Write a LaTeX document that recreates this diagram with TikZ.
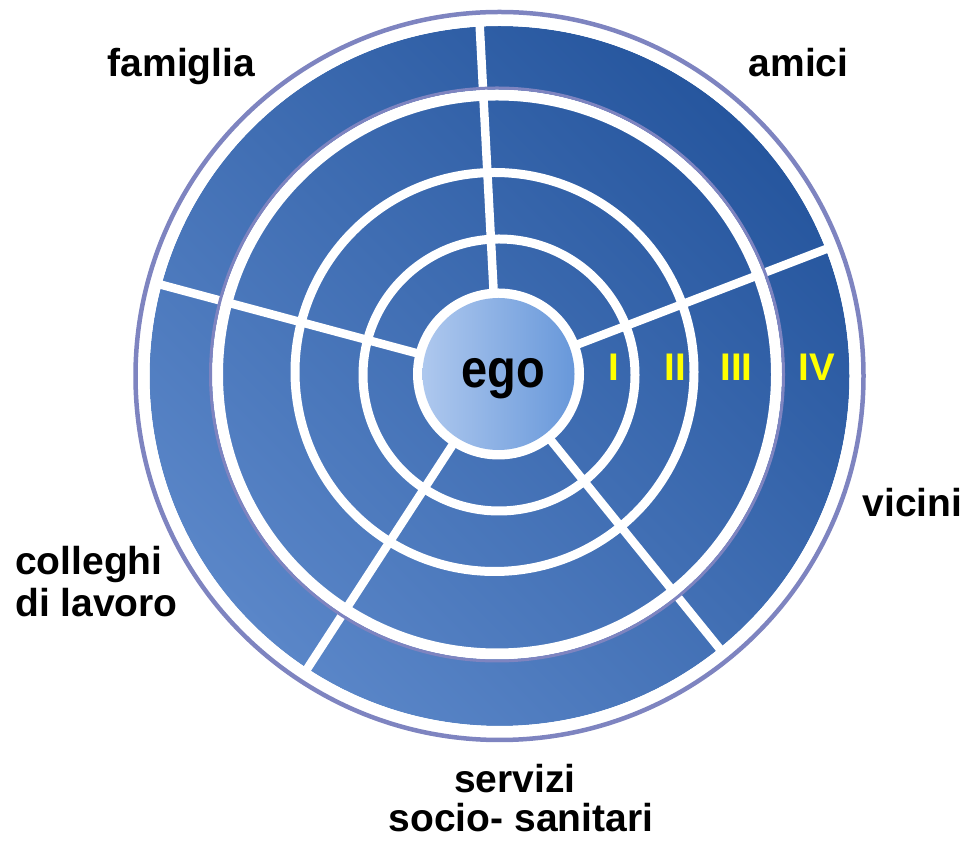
\documentclass[tikz,border=0pt]{standalone}
\usepackage{fontspec}
\setmainfont{Liberation Sans}
\definecolor{bluelight}{RGB}{90,134,200}
\definecolor{bluedark}{RGB}{38,86,158}
\definecolor{lav}{RGB}{126,132,192}
\definecolor{egol}{RGB}{174,200,238}
\definecolor{egor}{RGB}{104,152,218}
\definecolor{numyellow}{RGB}{255,255,0}
\begin{document}
\begin{tikzpicture}[x=1pt,y=1pt,
  lbl/.style={font=\fontsize{39}{44}\selectfont\bfseries, inner sep=0pt, anchor=base},
  numlbl/.style={font=\fontsize{38.5}{44}\selectfont\bfseries, text=numyellow, inner sep=0pt, anchor=base},
  divider/.style={white, line width=8.5pt},
  whitering/.style={white},
  lavring/.style={lav}]
\useasboundingbox (0,0) rectangle (969,843);
% centres
\coordinate (outerc) at (499.5,467);
\coordinate (ringc) at (497,468.5);
\coordinate (twoc) at (494.5,471);
\coordinate (onec) at (499,468);
\coordinate (egoc) at (498.5,469);
\coordinate (divc) at (498,468);
% blue disc
\shade[shading=axis, top color=bluedark, bottom color=bluelight, shading angle=-45] (outerc) circle[radius=350];
% dividers
\foreach \a in {93,165,237,309,21}{
  \draw[divider, shift={(divc)}] (\a:80) -- (\a:352);
}
% outer rim
\draw[whitering, line width=12pt] (outerc) circle[radius=356];
\draw[lavring, line width=4.5pt] (outerc) circle[radius=364];
% ring III / IV boundary
\draw[whitering, line width=11pt] (ringc) circle[radius=279.5];
\draw[lavring, line width=3pt] (ringc) circle[radius=286.5];
% ring II / III boundary
\draw[whitering, line width=9pt] (twoc) circle[radius=199.5];
% ring I / II boundary
\draw[whitering, line width=9pt] (onec) circle[radius=136];
% ego
\fill[white] (egoc) circle[radius=85.5];
\shade[left color=egol, right color=egor] (egoc) circle[radius=76];
\node (ego) [font=\fontsize{54}{60}\selectfont\bfseries, inner sep=0pt, anchor=base, xscale=0.87] at (503.5,455) {ego};
% ring numerals
\node (nI) [numlbl] at (613.5,462) {I};
\node (nII) [numlbl] at (675.5,462) {II};
\node (nIII) [numlbl] at (736.5,462) {III};
\node (nIV) [numlbl] at (816.5,462) {IV};
% labels
\node (famiglia) [lbl] at (181.5,766) {famiglia};
\node (amici) [lbl] at (798.5,766) {amici};
\node (vicini) [lbl] at (912.5,326) {vicini};
\node (colleghi) [lbl, anchor=base west] at (15,268) {colleghi};
\node (lavoro) [lbl, anchor=base west] at (15,226) {di lavoro};
\node (servizi) [lbl] at (515,50) {servizi};
\node (socio) [lbl] at (521,11) {socio- sanitari};
\end{tikzpicture}
\end{document}
